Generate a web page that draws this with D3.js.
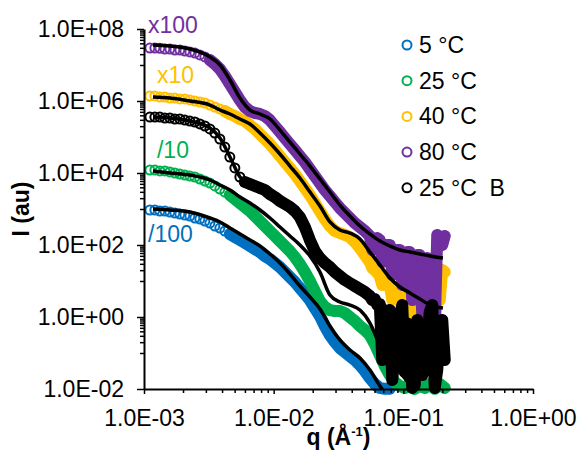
<!DOCTYPE html>
<html>
<head>
<meta charset="utf-8">
<script src="https://cdn.jsdelivr.net/npm/d3@7"></script>
<style>
body{margin:0;background:#fff;}
svg text{font-family:"Liberation Sans",Arial,sans-serif;fill:#000;}
</style>
</head>
<body>
<svg id="chart" width="582" height="452"></svg>
<script>
// q grid of the measured curves (1/A)
var qData = [0.001110,0.001213,0.001326,0.001449,0.001583,0.001730,0.001891,0.002066,0.002258,0.002467,
  0.002696,0.002947,0.003220,0.003519,0.003845,0.004202,0.004592,0.005019,0.005484,0.005993,
  0.006550,0.007157,0.007822,0.008548,0.009341,0.01021,0.01116,0.01219,0.01332,0.01456,
  0.01591,0.01739,0.01900,0.02076,0.02269,0.02479,0.02710,0.02961,0.03236,0.03536,
  0.03864,0.04223,0.04615,0.05043,0.05511,0.06022,0.06581,0.07192,0.07859,0.08589,
  0.09386,0.1026,0.1121,0.1225,0.1339,0.1463,0.1598,0.1747,0.1909,0.2086];

// measured intensities, already scaled (/100, /10, x10, x100)
var i5 = [9.38e2,9.38e2,8.80e2,8.80e2,8.26e2,7.74e2,7.26e2,6.81e2,6.39e2,5.62e2,
  5.27e2,4.64e2,4.08e2,3.37e2,2.96e2,2.45e2,2.02e2,1.67e2,1.38e2,1.14e2,
  93.8,77.4,64.0,49.5,40.8,31.6,24.5,17.8,12.9,9.38,
  6.39,4.36,2.96,1.78,1.07,0.562,0.316,0.202,0.138,0.107,
  0.0826,0.0640,0.0464,0.0316,0.0202,0.0138,0.0107,0.0101,0.0101];
var i25 = [1.21e4,1.21e4,1.14e4,1.14e4,1.07e4,1.00e4,9.38e3,8.80e3,8.26e3,7.74e3,
  6.81e3,6.00e3,5.27e3,4.36e3,3.59e3,2.96e3,2.45e3,1.90e3,1.47e3,1.14e3,
  8.80e2,6.39e2,4.64e2,3.37e2,2.45e2,1.78e2,1.29e2,93.8,68.1,46.4,
  29.6,17.8,10.0,5.27,2.78,1.90,1.56,1.47,1.47,1.29,
  1.00,0.774,0.562,0.436,0.316,0.178,0.0880,0.0436,0.0245,0.0156,
  0.0121,0.0107,0.0138,0.0101,0.0121,0.0107,0.0138,0.0101,0.0138,0.0107];
var i40 = [1.38e6,1.38e6,1.29e6,1.29e6,1.21e6,1.21e6,1.14e6,1.14e6,1.07e6,1.00e6,
  9.38e5,8.80e5,7.74e5,6.81e5,6.00e5,5.27e5,4.36e5,3.83e5,3.16e5,2.78e5,
  2.15e5,1.67e5,1.21e5,8.80e4,6.39e4,4.36e4,2.96e4,2.02e4,1.38e4,9.38e3,
  6.00e3,3.83e3,2.45e3,1.47e3,8.80e2,5.27e2,3.37e2,2.45e2,2.15e2,1.90e2,
  1.67e2,1.21e2,82.6,52.7,33.7,20.2,13.8,8.80,7.74,3.37,
  4.95,1.78,2.96,0.938,2.02,0.726,1.38,0.527,2.96,17.8];
var i80 = [2.96e7,2.96e7,2.92e7,2.78e7,2.78e7,2.61e7,2.61e7,2.45e7,2.30e7,2.15e7,
  1.90e7,1.67e7,1.38e7,1.07e7,7.74e6,4.95e6,2.97e6,1.78e6,1.07e6,6.81e5,
  5.27e5,4.64e5,4.36e5,3.83e5,2.96e5,2.02e5,1.38e5,9.38e4,6.39e4,4.36e4,
  2.96e4,2.02e4,1.29e4,8.26e3,5.27e3,3.37e3,2.30e3,1.56e3,1.07e3,7.74e2,
  5.62e2,4.08e2,3.16e2,2.45e2,1.78e2,100,138,52.7,100,23.0,
  72.6,10.7,64.0,4.08,52.7,1.56,33.7,0.600,138,178];
var i25B = [3.59e5,3.59e5,3.59e5,3.37e5,3.37e5,3.16e5,3.16e5,2.96e5,2.78e5,2.61e5,
  2.30e5,2.02e5,1.67e5,1.29e5,8.80e4,5.27e4,2.78e4,1.38e4,7.74e3,5.62e3,
  4.95e3,4.36e3,3.83e3,3.37e3,2.61e3,2.15e3,1.67e3,1.38e3,1.14e3,8.80e2,
  6.00e2,3.16e2,1.38e2,68.1,43.6,31.6,24.5,17.8,13.8,10.7,
  8.80,7.26,6.00,4.95,3.83,3.16,2.30,0.436,1.56,0.121,
  0.938,0.0297,0.600,0.0129,0.230,0.0464,1.38,0.0107,0.436,0.0640];

// extra points of the noisy high-q tails (between the grid points above)
var qTail = [0.05761,0.06295,0.06880,0.07518,0.08216,0.08979,0.09812,0.1073,0.1172,0.1281,
  0.1400,0.1529,0.1671,0.1826,0.1996];
var tail5 = [];
var tail25 = [];
var tail40 = [23.0,16.7,7.74,10.7,2.96,5.62,1.38,3.37,0.826,2.15,
  0.562,1.38,0.726,5.62,20.2];
var tail80 = [72.6,156,33.7,100,14.7,72.6,7.74,64.0,2.96,52.7,
  1.14,43.6,0.826,190,100];
var tail25B = [2.96,2.15,0.0640,1.14,0.0178,0.316,2.15,0.0880,0.0107,0.826,
  0.0245,0.167,2.15,0.0337,0.826];

// model fits
var qFit = [0.001173,0.001587,0.002263,0.003228,0.003855,0.004603,0.005498,0.006569,0.007843,0.009365,
  0.01118,0.01336,0.01595,0.01905,0.02275,0.02716,0.03244,0.03876,0.04628,0.05527,
  0.06601,0.07883,0.09415,0.1124,0.1343,0.1604,0.2020];
var fit5 = [1.00e3,9.38e2,8.26e2,5.62e2,4.36e2,2.96e2,2.02e2,1.38e2,93.8,56.2,
  31.6,15.6,7.26,3.59,1.67,0.562,0.230,0.121,0.0726,0.0337,
  0.0121,0.00494];
var fit25 = [1.14e4,1.00e4,8.80e3,6.39e3,4.64e3,3.37e3,2.15e3,1.47e3,9.38e2,5.62e2,
  3.16e2,1.78e2,1.00e2,49.5,17.8,4.08,2.61,2.15,1.56,0.681,
  0.167,0.0640,0.0297,0.0129,0.00640];
var fit40 = [1.29e6,1.21e6,1.00e6,7.74e5,5.62e5,4.36e5,3.16e5,2.30e5,1.29e5,6.81e4,
  3.37e4,1.56e4,7.26e3,2.96e3,1.21e3,4.36e2,2.61e2,2.15e2,1.47e2,64.0,
  27.8,12.1,6.81,4.64,3.16,2.15,1.78];
var fit80 = [3.59e7,3.37e7,2.78e7,1.67e7,1.00e7,3.83e6,1.21e6,5.62e5,4.36e5,3.16e5,
  1.56e5,7.26e4,3.37e4,1.56e4,6.81e3,2.96e3,1.29e3,6.39e2,3.37e2,2.02e2,
  1.29e2,93.8,72.6,64.0,56.2,49.5,43.6];
var fit25B = [3.59e5,3.37e5,2.78e5,1.78e5,9.38e4,2.78e4,7.74e3,4.95e3,3.83e3,2.78e3,
  1.67e3,1.14e3,6.39e2,1.56e2,46.4,24.5,13.8,8.80,6.00,4.08,
  2.61,1.67,1.14,0.826,0.640,0.527,0.436];

var seriesNames = ["5 °C","25 °C","40 °C","80 °C","25 °C  B"];
var seriesColors = ["#0070C0","#00B050","#FFC000","#7030A0","#000000"];
var seriesValues = [i5,i25,i40,i80,i25B];
var tailValues = [tail5,tail25,tail40,tail80,tail25B];
var fitValues = [fit5,fit25,fit40,fit80,fit25B];

var xMajor = [1e-3,1e-2,1e-1,1];
var yMajor = [1e-2,1,1e2,1e4,1e6,1e8];

// scale factor notes next to the curves
var noteTexts = ["x100","x10","/10","/100"];
var noteQ = [0.001074,0.001259,0.001259,0.001074];
var noteI = [7.74e7,3.16e6,2.61e4,121];
var noteColors = ["#7030A0","#FFC000","#00B050","#0070C0"];

// from this q on the measured points are so dense that the rings merge into a band
var bandStartQ = [0.0045,0.0045,0.0040,0.0032,0.0058];

var svg = d3.select("#chart");
var plotL = 144, plotR = 533, plotT = 29, plotB = 389;

var x = d3.scaleLog().domain([1e-3,1]).range([plotL,plotR]);
var y = d3.scaleLog().domain([1e-2,1e8]).range([plotB,plotT]);

function sci(v){
  var e = Math.round(Math.log10(v));
  var a = Math.abs(e);
  return "1.0E" + (e<0 ? "-" : "+") + (a<10 ? "0" : "") + a;
}

var xMinor = [];
[-3,-2,-1].forEach(function(e){
  for(var m=2;m<=9;m++) xMinor.push(m*Math.pow(10,e));
});
var yMinor = [];
[-1,1,3,5,7].forEach(function(e){
  for(var m=1;m<=9;m++) yMinor.push(m*Math.pow(10,e));
});

svg.append("defs").append("clipPath").attr("id","plotclip")
   .append("rect").attr("x",plotL).attr("y",plotT)
   .attr("width",plotR-plotL).attr("height",plotB-plotT);

var line = d3.line()
             .x(function(d){return x(d[0]);})
             .y(function(d){return y(d[1]);});

function inRange(v){ return v>=1e-2 && v<=1e8; }

// markers
var markG = svg.append("g");
seriesValues.forEach(function(vals,si){
  var pts = [];
  vals.forEach(function(v,i){ if(inRange(v)) pts.push([qData[i],v]); });
  tailValues[si].forEach(function(v,i){ if(inRange(v)) pts.push([qTail[i],v]); });
  pts.sort(function(a,b){return a[0]-b[0];});
  var g = markG.append("g");
  var dense = pts.filter(function(d){return d[0]>=bandStartQ[si];});
  g.append("path")
   .attr("d",line(dense))
   .attr("fill","none")
   .attr("stroke",seriesColors[si])
   .attr("stroke-width",12)
   .attr("stroke-linejoin","round")
   .attr("stroke-linecap","round");
  g.selectAll("circle")
   .data(pts)
   .enter().append("circle")
   .attr("cx",function(d){return x(d[0]);})
   .attr("cy",function(d){return y(d[1]);})
   .attr("r",4.5)
   .attr("fill","none")
   .attr("stroke",seriesColors[si])
   .attr("stroke-width",2);
});

// fit lines
var fitLine = d3.line()
             .x(function(d){return x(d[0]);})
             .y(function(d){return y(d[1]);})
             .curve(d3.curveMonotoneX);
var fitG = svg.append("g").attr("clip-path","url(#plotclip)");
fitValues.forEach(function(vals){
  var pts = vals.map(function(v,i){return [qFit[i],v];});
  fitG.append("path")
      .attr("d",fitLine(pts))
      .attr("fill","none")
      .attr("stroke","#000")
      .attr("stroke-width",3.5)
      .attr("stroke-linejoin","round");
});

// axes
svg.append("g").attr("transform","translate(" + plotL + ",0)")
   .call(d3.axisLeft(y).tickValues(yMajor).tickFormat(sci).tickSize(7).tickSizeOuter(0).tickPadding(13));
svg.append("g").attr("transform","translate(" + plotL + ",0)")
   .call(d3.axisLeft(y).tickValues(yMinor).tickFormat("").tickSize(4).tickSizeOuter(0))
   .select(".domain").remove();
svg.append("g").attr("transform","translate(0," + plotB + ")")
   .call(d3.axisBottom(x).tickValues(xMajor).tickFormat(sci).tickSize(5).tickSizeOuter(0).tickPadding(16));
svg.append("g").attr("transform","translate(0," + plotB + ")")
   .call(d3.axisBottom(x).tickValues(xMinor).tickFormat("").tickSize(4).tickSizeOuter(0))
   .select(".domain").remove();

svg.selectAll(".domain").attr("stroke","#000").attr("stroke-width",2);
svg.selectAll(".tick line").attr("stroke","#000").attr("stroke-width",1.5);
svg.selectAll(".tick text").attr("font-size",23).attr("font-family","Liberation Sans, Arial, sans-serif").attr("fill","#000");

// axis titles
svg.append("text")
   .attr("transform","translate(29," + ((plotT+plotB)/2) + ") rotate(-90)")
   .attr("text-anchor","middle")
   .attr("font-size",23).attr("font-weight","bold")
   .text("I (au)");
var xt = svg.append("text")
   .attr("x",(plotL+plotR)/2).attr("y",445)
   .attr("text-anchor","middle")
   .attr("font-size",23).attr("font-weight","bold");
xt.append("tspan").text("q (Å");
xt.append("tspan").attr("font-size",13).attr("dy",-9).text("-1");
xt.append("tspan").attr("dy",9).text(")");

// notes
noteTexts.forEach(function(t,i){
  svg.append("text")
     .attr("x",x(noteQ[i])).attr("y",y(noteI[i]))
     .attr("font-size",23)
     .style("fill",noteColors[i])
     .text(t);
});

// legend
var leg = svg.append("g").attr("transform","translate(407,45)");
seriesNames.forEach(function(n,i){
  var g = leg.append("g").attr("transform","translate(0," + (i*35.7) + ")");
  g.append("circle").attr("r",4.5).attr("fill","none")
   .attr("stroke",seriesColors[i]).attr("stroke-width",2);
  g.append("text").attr("x",12).attr("y",8)
   .attr("font-size",23)
   .style("white-space","pre")
   .text(n);
});
</script>
</body>
</html>
